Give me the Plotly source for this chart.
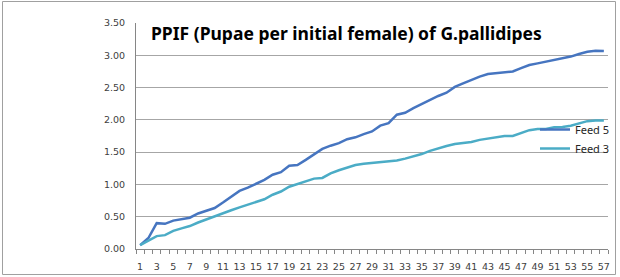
import plotly.graph_objects as go

days = list(range(1, 58))
feed5 = [0.06, 0.17, 0.40, 0.39, 0.44, 0.46, 0.485, 0.55, 0.59, 0.635,
         0.72, 0.81, 0.90, 0.95, 1.01, 1.07, 1.15, 1.19, 1.29, 1.30,
         1.38, 1.46, 1.55, 1.60, 1.64, 1.70, 1.73, 1.78, 1.82, 1.91,
         1.95, 2.08, 2.11, 2.18, 2.245, 2.31, 2.37, 2.42, 2.51, 2.565,
         2.62, 2.67, 2.71, 2.725, 2.73, 2.75, 2.80, 2.85, 2.875, 2.90,
         2.93, 2.95, 2.98, 3.02, 3.055, 3.07, 3.065]
feed3 = [0.06, 0.13, 0.20, 0.215, 0.28, 0.32, 0.355, 0.41, 0.46, 0.51,
         0.55, 0.60, 0.645, 0.685, 0.73, 0.77, 0.84, 0.89, 0.965, 1.01,
         1.05, 1.09, 1.10, 1.17, 1.22, 1.265, 1.30, 1.32, 1.33, 1.347,
         1.35, 1.37, 1.40, 1.43, 1.47, 1.52, 1.56, 1.595, 1.626, 1.646,
         1.657, 1.69, 1.71, 1.725, 1.75, 1.75, 1.79, 1.84, 1.86, 1.86,
         1.885, 1.89, 1.91, 1.95, 1.98, 1.99, 1.99]
ytick_vals = [0, 0.5, 1.0, 1.5, 2.0, 2.5, 3.0, 3.5]
xtick_vals = list(range(1, 58, 2))

title_text = "PPIF (Pupae per initial female) of G.pallidipes"

fig = go.Figure()
fig.add_trace(go.Scatter(x=days, y=feed5, mode="lines", name="Feed 5",
                         line=dict(color="#4675C0", width=2.5)))
fig.add_trace(go.Scatter(x=days, y=feed3, mode="lines", name="Feed 3",
                         line=dict(color="#4BACC6", width=2.5)))

L, R, T, B = 136, 12, 23, 28
W, H = 620, 277
pw, ph = W - L - R, H - T - B

def px_x(p):
    return (p - L) / pw

def px_y(p):
    return (H - B - p) / ph

fig.update_layout(
    width=W, height=H,
    margin=dict(l=L, r=R, t=T, b=B, autoexpand=False),
    paper_bgcolor="white", plot_bgcolor="white",
    showlegend=True,
    legend=dict(x=px_x(535), y=px_y(115), xanchor="left", yanchor="top",
                bgcolor="rgba(0,0,0,0)", font=dict(family="Noto Sans", size=11, color="#262626"),
                tracegroupgap=0, itemwidth=30),
    xaxis=dict(range=[0.5, 57.5], tickmode="array", tickvals=xtick_vals,
               ticktext=[str(v) for v in xtick_vals], ticks="", ticklabelstandoff=9,
               automargin=False,
               showgrid=False, zeroline=False, showline=True, linecolor="#868686", linewidth=1,
               tickfont=dict(family="DejaVu Sans", size=9.5, color="#404040"),
               minor=dict(tick0=0.5, dtick=1, ticks="outside", ticklen=4, tickcolor="#868686", showgrid=False)),
    yaxis=dict(range=[0, 3.5], tickmode="array", tickvals=ytick_vals,
               ticktext=["%.2f" % v for v in ytick_vals], ticks="", ticklabelstandoff=8,
               automargin=False,
               showgrid=True, gridcolor="#A6A6A6", gridwidth=1, zeroline=False,
               showline=True, linecolor="#868686", linewidth=1,
               tickfont=dict(family="DejaVu Sans", size=9.5, color="#404040")),
    annotations=[dict(text="<b>" + title_text + "</b>", xref="paper", yref="paper",
                      x=px_x(149), y=px_y(33), xanchor="left", yanchor="middle",
                      showarrow=False, font=dict(family="Noto Sans", size=17.5, color="black"))],
    shapes=[dict(type="rect", xref="paper", yref="paper",
                 x0=px_x(2.5), x1=px_x(615.5), y0=px_y(274.5), y1=px_y(1.5),
                 line=dict(color="#A0A0A0", width=1), fillcolor="rgba(0,0,0,0)", layer="below")],
)

fig.write_html("out.html")
